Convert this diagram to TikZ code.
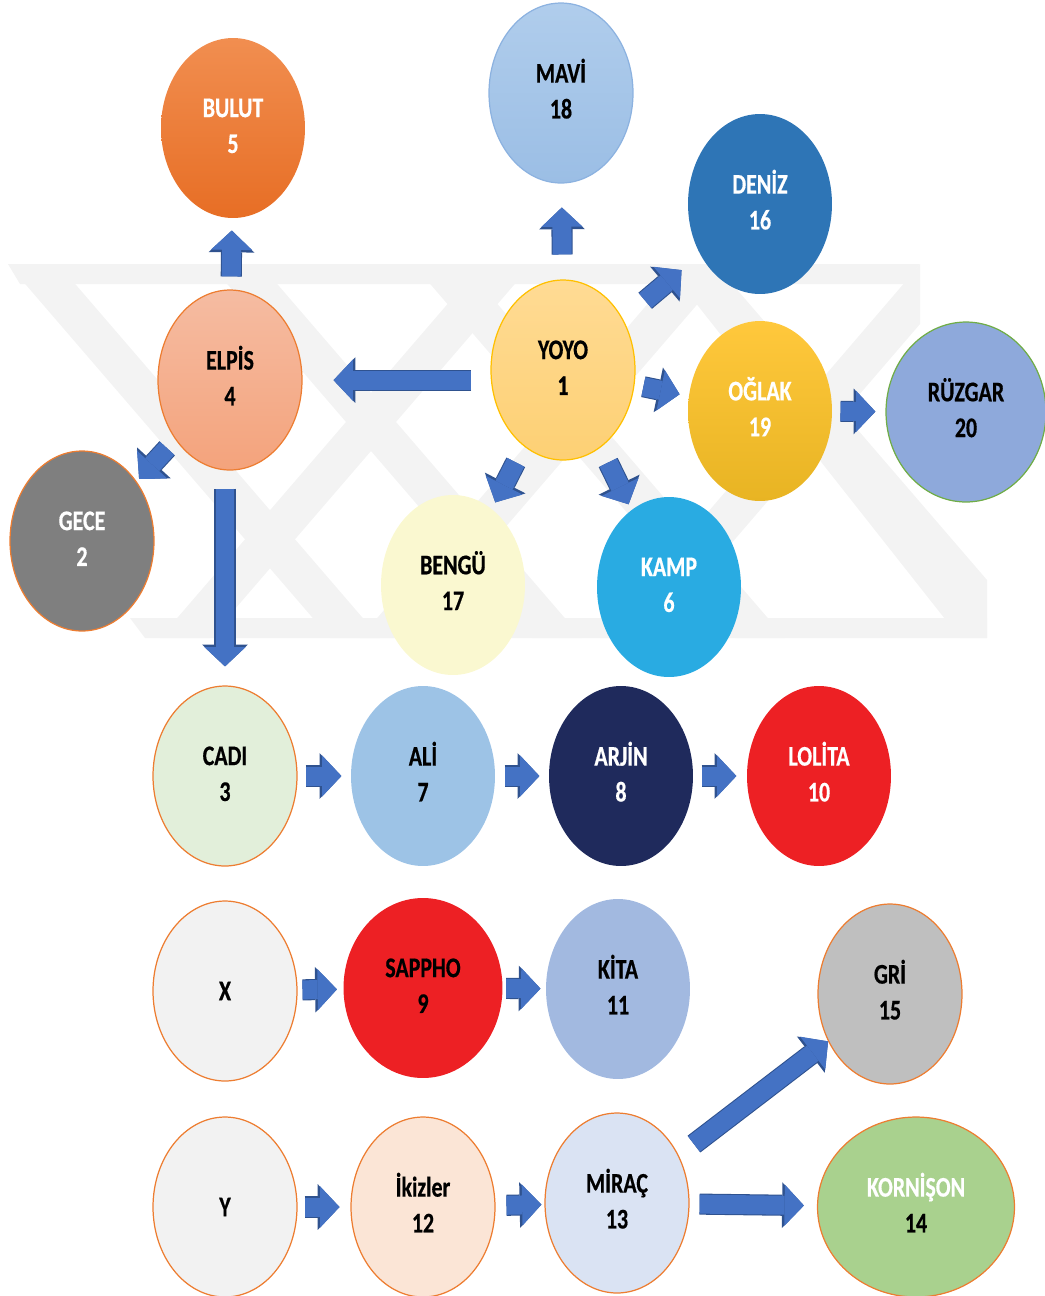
\documentclass[tikz,border=0pt]{standalone}
\usepackage{fontspec}
\newfontfamily\cf[FakeStretch=0.77, BoldFeatures={FakeBold=0.5}]{Carlito}
\usetikzlibrary{shapes.geometric,arrows.meta}
\definecolor{bulutT}{RGB}{241,142,80}
\definecolor{bulutB}{RGB}{231,110,37}
\definecolor{maviT}{RGB}{176,205,236}
\definecolor{maviB}{RGB}{155,190,229}
\definecolor{maviL}{RGB}{140,178,224}
\definecolor{deniz}{RGB}{46,117,182}
\definecolor{elpisT}{RGB}{245,188,162}
\definecolor{elpisB}{RGB}{244,163,124}
\definecolor{orangeL}{RGB}{237,125,49}
\definecolor{yoyoT}{RGB}{255,219,148}
\definecolor{yoyoB}{RGB}{253,208,116}
\definecolor{yoyoL}{RGB}{255,192,0}
\definecolor{oglakT}{RGB}{255,200,60}
\definecolor{oglakM}{RGB}{255,192,0}
\definecolor{oglakB}{RGB}{232,180,35}
\definecolor{ruzgar}{RGB}{142,169,219}
\definecolor{greenL}{RGB}{112,173,71}
\definecolor{gece}{RGB}{127,127,127}
\definecolor{bengu}{RGB}{250,248,208}
\definecolor{kamp}{RGB}{41,171,226}
\definecolor{cadi}{RGB}{226,239,218}
\definecolor{ali}{RGB}{157,195,230}
\definecolor{arjin}{RGB}{31,42,92}
\definecolor{kirmizi}{RGB}{237,32,36}
\definecolor{acik}{RGB}{242,242,242}
\definecolor{kita}{RGB}{162,185,224}
\definecolor{gri}{RGB}{191,191,191}
\definecolor{ikizler}{RGB}{251,229,214}
\definecolor{mirac}{RGB}{218,227,243}
\definecolor{kornison}{RGB}{169,209,142}
\definecolor{arrowfill}{RGB}{68,114,196}
\definecolor{arrowline}{RGB}{47,82,143}
\definecolor{wmark}{RGB}{243,243,243}
\newcommand\blab[2]{\rule{0pt}{13pt}#1\\#2\rule[-5pt]{0pt}{5pt}}
\begin{document}
\begin{tikzpicture}[x=0.02cm,y=-0.02cm,
  bub/.style={ellipse, inner sep=0pt, minimum width=2.88cm, minimum height=3.6cm,
    font=\cf\bfseries\fontsize{16.2pt}{20.4pt}\selectfont, align=center, line width=0.7pt},
  wide/.style={minimum width=#1},
  orng/.style={draw=orangeL},
  band/.style={fill=wmark, draw=none},
  barrow/.style={draw=arrowfill, line width=10.8pt,
    -{Triangle[length=11pt,width=23.5pt,line width=0pt]},
    preaction={draw=arrowline, line width=12pt,
      -{Triangle[length=12.4pt,width=26pt,line width=0pt]}}}
]
\useasboundingbox (0,0) rectangle (1045,1296);
\clip (0,0) rectangle (1045,1296);

% faint background watermark
\begin{scope}
\clip (0,264) rectangle (1045,638);
\fill[band] (8,264) -- (920,264) -- (905,284) -- (20,284) -- cycle;
\fill[band] (130,618) -- (987,618) -- (987,638) -- (145,638) -- cycle;
\fill[band] (8,264) -- (58,264) -- (380,638) -- (330,638) -- cycle;
\fill[band] (210,264) -- (260,264) -- (582,638) -- (532,638) -- cycle;
\fill[band] (413,264) -- (463,264) -- (785,638) -- (735,638) -- cycle;
\fill[band] (665,264) -- (715,264) -- (987,580) -- (987,638) -- (960,638) -- cycle;
\fill[band] (160,638) -- (210,638) -- (532,264) -- (482,264) -- cycle;
\fill[band] (360,638) -- (410,638) -- (732,264) -- (682,264) -- cycle;
\fill[band] (600,638) -- (650,638) -- (920,324) -- (920,264) -- (900,288) -- cycle;
\end{scope}

% bubbles
\node[bub, top color=bulutT, bottom color=bulutB, text=white] (bulut) at (233,128) {\blab{BULUT}{5}};
\node[bub, top color=maviT, bottom color=maviB, draw=maviL] (mavi) at (561,93) {\blab{MAVİ}{18}};
\node[bub, fill=deniz, text=white] (deniz) at (760,204) {\blab{DENİZ}{16}};
\node[bub, top color=elpisT, bottom color=elpisB, orng] (elpis) at (230,380) {\blab{ELPİS}{4}};
\node[bub, top color=yoyoT, bottom color=yoyoB, draw=yoyoL] (yoyo) at (563,370) {\blab{YOYO}{1}};
\node[bub, top color=oglakT, middle color=oglakM, bottom color=oglakB, text=white] (oglak) at (760,411) {\blab{OĞLAK}{19}};
\node[bub, wide=3.2cm, fill=ruzgar, draw=greenL] (ruzgar) at (966,412) {\blab{RÜZGAR}{20}};
\node[bub, fill=gece, orng, text=white] (gece) at (82,541) {\blab{GECE}{2}};
\node[bub, fill=bengu] (bengu) at (453,585) {\blab{BENGÜ}{17}};
\node[bub, fill=kamp, text=white] (kamp) at (669,587) {\blab{KAMP}{6}};

\node[bub, fill=cadi, orng] (cadi) at (225,776) {\blab{CADI}{3}};
\node[bub, fill=ali] (ali) at (423,776) {\blab{ALİ}{7}};
\node[bub, fill=arjin, text=white] (arjin) at (621,776) {\blab{ARJİN}{8}};
\node[bub, fill=kirmizi, text=white] (lolita) at (819,776) {\blab{LOLİTA}{10}};

\node[bub, fill=acik, orng] (x) at (225,991) {X};
\node[bub, wide=3.18cm, fill=kirmizi] (sappho) at (423,988) {\blab{SAPPHO}{9}};
\node[bub, fill=kita] (kita) at (618,989) {\blab{KİTA}{11}};
\node[bub, fill=gri, orng] (gri) at (890,994) {\blab{GRİ}{15}};

\node[bub, fill=acik, orng] (y) at (225,1207) {Y};
\node[bub, fill=ikizler, orng] (ikizler) at (423,1207) {\blab{İkizler}{12}};
\node[bub, fill=mirac, orng] (mirac) at (617,1203) {\blab{MİRAÇ}{13}};
\node[bub, wide=3.94cm, fill=kornison, orng] (kornison) at (916,1207) {\blab{\textcolor{white}{KORNİŞON}}{14}};

% arrows
\draw[barrow, shorten <=7.4pt, shorten >=6.8pt] (elpis) -- (bulut);
\draw[barrow, shorten <=14.2pt, shorten >=13.6pt] (yoyo) -- (mavi);
\draw[barrow, shorten <=11.3pt, shorten >=17.6pt] (yoyo.188) -- (yoyo.188 -| elpis.east);
\draw[barrow, shorten <=16.4pt, shorten >=13.6pt] (yoyo) -- (deniz);
\draw[barrow, shorten <=5.1pt, shorten >=5.1pt] (yoyo) -- (oglak);
\draw[barrow, shorten <=4.5pt, shorten >=5.7pt] (oglak) -- (ruzgar);
\draw[barrow, shorten <=10.2pt, shorten >=4pt] (yoyo) -- (bengu);
\draw[barrow, shorten <=9.6pt, shorten >=3.4pt] (yoyo) -- (kamp);
\draw[barrow, shorten <=6.8pt, shorten >=2pt] (elpis) -- (gece);
\draw[barrow, shorten <=10.2pt, shorten >=10.8pt] (cadi.north |- elpis.south) -- (cadi.north);
\draw[barrow, shorten <=4.5pt, shorten >=5.1pt] (cadi) -- (ali);
\draw[barrow, shorten <=5.1pt, shorten >=5.1pt] (ali) -- (arjin);
\draw[barrow, shorten <=4.5pt, shorten >=5.7pt] (arjin) -- (lolita);
\draw[barrow, shorten <=2.8pt, shorten >=3.4pt] (x) -- (sappho);
\draw[barrow, shorten <=1.7pt, shorten >=2.8pt] (sappho) -- (kita);
\draw[barrow, shorten <=4pt, shorten >=6.2pt] (y) -- (ikizler);
\draw[barrow, shorten <=6.2pt, shorten >=1.7pt] (ikizler) -- (mirac);
\draw[barrow, shorten <=5.7pt, shorten >=7.4pt] (mirac) -- (kornison);
\draw[barrow, shorten <=10.8pt, shorten >=0pt] (mirac) -- (gri);
\end{tikzpicture}
\end{document}
